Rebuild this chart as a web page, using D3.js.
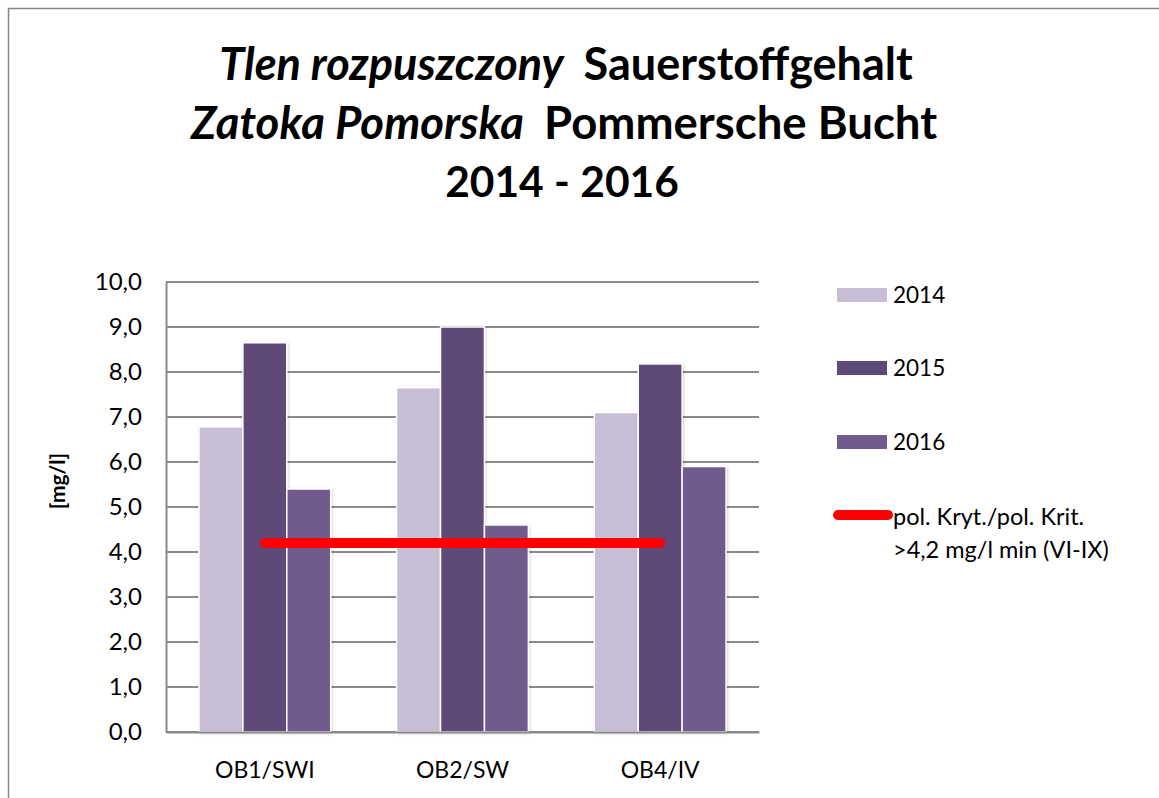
<!DOCTYPE html>
<html><head><meta charset="utf-8">
<script src="https://cdn.jsdelivr.net/npm/d3@7"></script>
<style>
html,body{margin:0;padding:0;background:#fff;overflow:hidden;}
svg{display:block;font-family:Lato,"Open Sans",sans-serif;}
</style></head>
<body><svg id="c" width="1159" height="798"></svg>
<script>
const categories = ["OB1/SWI", "OB2/SW", "OB4/IV"];
const series = ["2014", "2015", "2016"];
const values2014 = [6.78, 7.65, 7.1];
const values2015 = [8.65, 9.0, 8.18];
const values2016 = [5.4, 4.6, 5.9];
const thresholdValue = 4.2;
const thresholdLabel = ["pol. Kryt./pol. Krit.", ">4,2 mg/l min (VI-IX)"];
const yTicks = [0,1,2,3,4,5,6,7,8,9,10];
const colors = ["#C7BED5", "#5E4A78", "#715A8E"];

const seriesValues = [values2014, values2015, values2016];
const svg = d3.select("#c");

// outer chart border
svg.append("rect").attr("x", 8.5).attr("y", 8.5).attr("width", 1170).attr("height", 810)
  .attr("fill", "#fff").attr("stroke", "#868686").attr("stroke-width", 1.5);

const defs = svg.append("defs");
const f = defs.append("filter").attr("id","sh").attr("x","-20%").attr("y","-5%").attr("width","140%").attr("height","110%");
f.append("feDropShadow").attr("dx",1).attr("dy",1).attr("stdDeviation",1.5).attr("flood-color","#000").attr("flood-opacity",0.18);

// title
const title = svg.append("g").attr("font-weight","bold").attr("text-anchor","middle");
const t1 = title.append("text").attr("x", 566).attr("y", 80).attr("font-size", 45);
t1.append("tspan").attr("font-style","italic").text("Tlen rozpuszczony");
t1.append("tspan").attr("dx", 20).text("Sauerstoffgehalt");
const t2 = title.append("text").attr("x", 564).attr("y", 139).attr("font-size", 45.5);
t2.append("tspan").attr("font-style","italic").text("Zatoka Pomorska");
t2.append("tspan").attr("dx", 20).text("Pommersche Bucht");
title.append("text").attr("x", 562).attr("y", 197).attr("font-size", 42.5).text("2014 - 2016");

const L = 166, R = 759, T = 282, B = 732;
const y = d3.scaleLinear().domain([0, 10]).range([B, T]);
const x0 = d3.scaleBand().domain(categories).range([L, R]).paddingInner(0).paddingOuter(0);
const x1 = d3.scaleBand().domain(series).range([0, x0.bandwidth()]).paddingInner(0).paddingOuter(0.75);

// gridlines
svg.append("g").selectAll("line").data(yTicks).join("line")
  .attr("x1", L).attr("x2", R).attr("y1", d => y(d)).attr("y2", d => y(d))
  .attr("stroke", "#8a8a8a").attr("stroke-width", 2);

// y axis
const yAxis = svg.append("g").attr("transform", `translate(${L},0)`)
  .call(d3.axisLeft(y).tickValues(yTicks).tickSize(0).tickPadding(24)
    .tickFormat(d => d3.format(".1f")(d).replace(".", ",")));
yAxis.select(".domain").attr("stroke", "#8a8a8a").attr("stroke-width", 2);
yAxis.selectAll("text").attr("font-size", 24).attr("fill", "#000").attr("font-family","Lato");

// bars
const groups = svg.append("g").selectAll("g").data(categories).join("g")
  .attr("transform", d => `translate(${x0(d)},0)`);
groups.selectAll("rect").data((d, i) => series.map((s, j) => ({s, v: seriesValues[j][i], j})))
  .join("rect")
  .attr("x", d => x1(d.s)).attr("width", x1.bandwidth())
  .attr("y", d => y(d.v)).attr("height", d => y(0) - y(d.v))
  .attr("fill", d => colors[d.j]).attr("stroke", "#fff").attr("stroke-width", 1.5)
  .attr("filter", "url(#sh)");

// x axis
const xAxis = svg.append("g").attr("transform", `translate(0,${B})`)
  .call(d3.axisBottom(x0).tickSize(0).tickPadding(30));
xAxis.select(".domain").attr("stroke", "#8a8a8a").attr("stroke-width", 2);
xAxis.selectAll("text").attr("font-size", 23).attr("fill", "#000").attr("font-family","Lato");

// threshold line
const line = d3.line().x(d => x0(d) + x0.bandwidth() / 2).y(() => y(thresholdValue));
svg.append("path").datum(categories).attr("d", line)
  .attr("stroke", "#FF0000").attr("stroke-width", 10).attr("stroke-linecap", "round").attr("fill", "none");

// y axis title
svg.append("text").attr("transform", "translate(65,481) rotate(-90)")
  .attr("text-anchor", "middle").attr("font-weight", "bold").attr("font-size", 21).text("[mg/l]");

// legend
const lg = svg.append("g");
const legY = [295, 368, 442];
series.forEach((s, i) => {
  lg.append("rect").attr("x", 837).attr("y", legY[i] - 7).attr("width", 50).attr("height", 14)
    .attr("fill", colors[i]);
  lg.append("text").attr("x", 893).attr("y", legY[i]).attr("dy", "0.36em")
    .attr("font-size", 22.5).text(s);
});
lg.append("line").attr("x1", 838).attr("x2", 888).attr("y1", 515).attr("y2", 515)
  .attr("stroke", "#FF0000").attr("stroke-width", 10).attr("stroke-linecap", "round");
thresholdLabel.forEach((t, i) => {
  lg.append("text").attr("x", 893).attr("y", 517 + i * 33).attr("dy", "0.36em")
    .attr("font-size", 23.5).text(t);
});
</script></body></html>
